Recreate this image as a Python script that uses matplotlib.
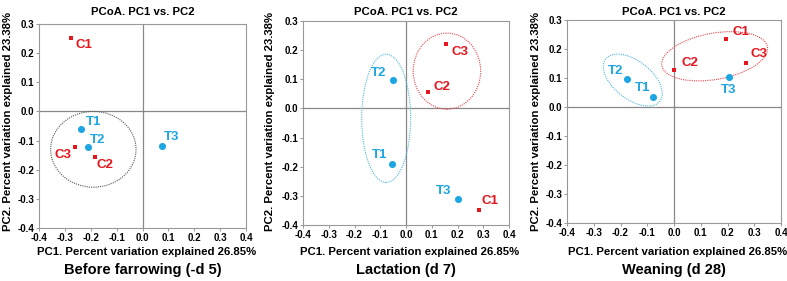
import matplotlib
matplotlib.use("Agg")
import matplotlib.pyplot as plt
from matplotlib.patches import Ellipse

plt.rcParams['font.family'] = ['Liberation Sans', 'DejaVu Sans']
plt.rcParams['font.weight'] = 'bold'

RED = '#e5161d'
BLUE = '#1ea6e3'

titles = ["Before farrowing (-d 5)", "Lactation (d 7)", "Weaning (d 28)"]
xlabel = "PC1. Percent variation explained 26.85%"
ylabel = "PC2. Percent variation explained 23.38%"
ticks_x = [-0.4, -0.3, -0.2, -0.1, 0.0, 0.1, 0.2, 0.3, 0.4]
ticks_y = [-0.4, -0.3, -0.2, -0.1, 0.0, 0.1, 0.2, 0.3]

c_names = ["C1", "C2", "C3"]
t_names = ["T1", "T2", "T3"]

# panel 1
c1_x = [-0.275, -0.185, -0.262]
c1_y = [0.253, -0.157, -0.122]
t1_x = [-0.237, -0.212, 0.075]
t1_y = [-0.060, -0.122, -0.120]
# panel 2
c2_x = [0.282, 0.087, 0.154]
c2_y = [-0.350, 0.056, 0.221]
t2_x = [-0.054, -0.052, 0.202]
t2_y = [-0.190, 0.096, -0.311]
# panel 3
c3_x = [0.193, 0.001, 0.271]
c3_y = [0.233, 0.128, 0.153]
t3_x = [-0.079, -0.175, 0.204]
t3_y = [0.035, 0.096, 0.104]

panels = [
    dict(cx=c1_x, cy=c1_y, tx=t1_x, ty=t1_y,
         coff=[(13, -7), (10, -8), (-12, -8)],
         toff=[(12, 7), (10, 7), (10, 9)],
         ell=[((-0.19, -0.13), 0.33, 0.26, 0, '#555555')],
         rect=[39, 24, 246, 228], ylx=8),
    dict(cx=c2_x, cy=c2_y, tx=t2_x, ty=t2_y,
         coff=[(11, 9), (14, 5), (14, -8)],
         toff=[(-13, 9), (-14, 7), (-14, 8)],
         ell=[((-0.077, -0.034), 0.19, 0.44, 0, '#4fb8d8'),
              ((0.159, 0.128), 0.262, 0.261, 0, '#e8474c')],
         rect=[303, 21, 509, 225], ylx=270),
    dict(cx=c3_x, cy=c3_y, tx=t3_x, ty=t3_y,
         coff=[(15, 7), (16, 7), (13, 9)],
         toff=[(-10, 9), (-12, 8), (0, -13)],
         ell=[((-0.154, 0.093), 0.25, 0.135, -34, '#4fb8d8'),
              ((0.152, 0.175), 0.40, 0.16, 9, '#e8474c')],
         rect=[567, 20, 781, 223], ylx=536),
]

W, H = 787, 281
fig = plt.figure(figsize=(W / 100, H / 100), dpi=100)

for i, p in enumerate(panels):
    x0, y0, x1, y1 = p['rect']
    ax = fig.add_axes([x0 / W, (H - y1) / H, (x1 - x0) / W, (y1 - y0) / H])
    ax.set_xlim(-0.4, 0.4)
    ax.set_ylim(-0.4, 0.3)
    ax.set_xticks(ticks_x)
    ax.set_yticks(ticks_y)
    ax.set_xticklabels([f"{v:.1f}" for v in ticks_x])
    ax.set_yticklabels([f"{v:.1f}" for v in ticks_y])
    ax.tick_params(labelsize=7, length=2, width=0.6, color='#888888', pad=1.5)
    for s in ax.spines.values():
        s.set_color('#999999')
        s.set_linewidth(0.8)
    ax.axhline(0, color='#888888', lw=0.9, zorder=1)
    ax.axvline(0, color='#888888', lw=0.9, zorder=1)
    for (c, w, h, ang, col) in p['ell']:
        ax.add_patch(Ellipse(c, w, h, angle=ang, fill=False, ec=col,
                             lw=0.8, ls=(0, (1, 1)), zorder=2))
    ax.scatter(p['cx'], p['cy'], marker='s', s=9, color=RED, zorder=3, linewidths=0)
    ax.scatter(p['tx'], p['ty'], marker='o', s=26, color=BLUE, zorder=3, linewidths=0)
    for n, x, y, o in zip(c_names, p['cx'], p['cy'], p['coff']):
        ax.annotate(n, (x, y), xytext=o, textcoords='offset pixels',
                    ha='center', va='center', color=RED, fontsize=9.5, fontweight='bold')
    for n, x, y, o in zip(t_names, p['tx'], p['ty'], p['toff']):
        ax.annotate(n, (x, y), xytext=o, textcoords='offset pixels',
                    ha='center', va='center', color=BLUE, fontsize=9.5, fontweight='bold')
    cxm = (x0 + x1) / 2 / W
    fig.text(cxm, 1 - 12 / H, "PCoA. PC1 vs. PC2", ha='center', va='center',
             fontsize=8.2, fontweight='bold')
    fig.text(cxm + 0.005, 1 - 252 / H, xlabel, ha='center', va='center',
             fontsize=8.2, fontweight='bold')
    fig.text(cxm, 1 - 270 / H, titles[i], ha='center', va='center',
             fontsize=10.5, fontweight='bold')
    fig.text(p['ylx'] / W, 1 - 121 / H, ylabel, rotation=90,
             ha='center', va='center', fontsize=8.2, fontweight='bold')

fig.savefig("out.png", dpi=100)
